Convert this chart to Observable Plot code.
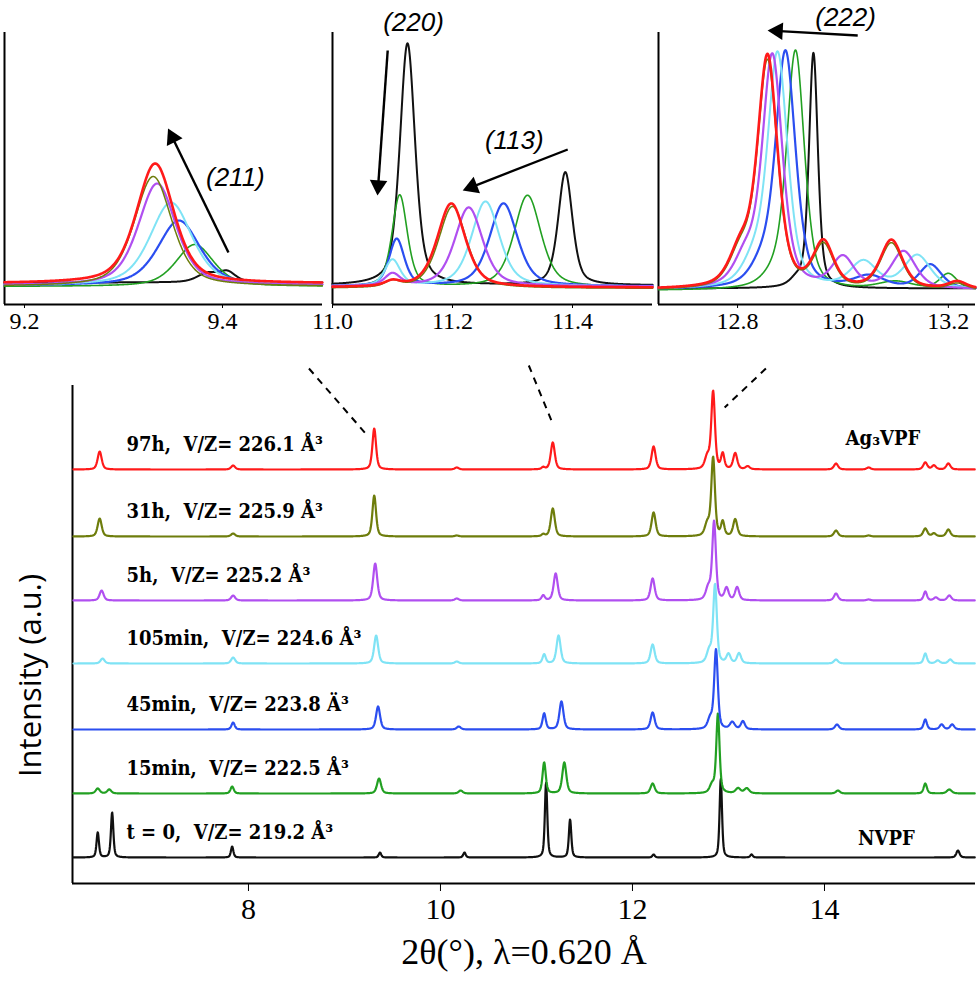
<!DOCTYPE html>
<html><head><meta charset="utf-8">
<script src="https://cdn.jsdelivr.net/npm/d3@7"></script>
<script src="https://cdn.jsdelivr.net/npm/@observablehq/plot@0.6"></script>
<style>
body{margin:0;background:#fff;}
#fig{position:relative;width:980px;height:985px;overflow:hidden;background:#fff;}
#fig > div{position:absolute;}
</style></head><body><div id="fig"></div>
<script>
// ---------------- data ----------------
const series = ["t = 0", "15min", "45min", "105min", "5h", "31h", "97h"];
const colors = ["#111111", "#22a022", "#2b4ef0", "#7fe3f5", "#b04ff0", "#6e7d0c", "#ff1a1a"];
const curveLabels = [
  "t = 0,  V/Z= 219.2 Å³",
  "15min,  V/Z= 222.5 Å³",
  "45min,  V/Z= 223.8 Ä³",
  "105min,  V/Z= 224.6 Å³",
  "5h,  V/Z= 225.2 Å³",
  "31h,  V/Z= 225.9 Å³",
  "97h,  V/Z= 226.1 Å³"
];
const offsets = [26, 90, 154, 220, 283, 347, 414];   // vertical stacking of patterns (a.u.)
const phaseLabels = ["NVPF", "Ag₃VPF"];

// peaks: [2θ position, intensity, FWHM]
const peaksT0 = [[6.43,25,0.03],[6.58,45,0.03],[7.83,11,0.03],[9.37,5,0.03],[10.25,5,0.03],[11.10,75,0.03],[11.35,38,0.03],[12.22,3,0.03],[12.92,79,0.03],[13.24,3,0.03],[15.39,7,0.04]];
const peaks15min = [[6.43,5,0.05],[6.55,4,0.05],[7.83,7,0.04],[9.36,15,0.05],[10.21,3,0.05],[11.08,31,0.04],[11.29,31,0.05],[12.21,10,0.05],[12.83,8,0.06],[12.89,79,0.04],[13.1,5,0.06],[13.19,5,0.06],[14.14,3,0.05],[15.05,10,0.04],[15.3,4,0.06]];
const peaks45min = [[7.84,7,0.04],[9.35,23,0.05],[10.19,3,0.05],[11.08,16,0.04],[11.26,28,0.05],[12.21,17,0.05],[12.81,10,0.06],[12.87,79,0.045],[13.04,7,0.06],[13.15,8,0.05],[14.13,5,0.05],[15.05,10,0.04],[15.22,5,0.05],[15.33,5,0.05]];
const peaks105min = [[6.48,5,0.05],[7.84,6,0.05],[9.33,28,0.05],[10.17,2,0.05],[11.08,9,0.04],[11.23,28,0.05],[12.21,19,0.05],[12.80,12,0.06],[12.86,78,0.045],[13.0,9,0.05],[13.11,10,0.05],[14.12,4,0.05],[15.05,10,0.04],[15.18,3,0.05],[15.31,4,0.05]];
const peaks5h = [[6.47,10,0.05],[7.84,5,0.05],[9.32,37,0.05],[10.17,2,0.05],[11.07,5,0.04],[11.2,27,0.05],[12.21,22,0.05],[12.79,12,0.06],[12.85,78,0.045],[12.98,12,0.05],[13.09,13,0.05],[14.12,7,0.05],[14.46,1,0.05],[15.05,9,0.04],[15.16,3,0.05],[15.3,5,0.05]];
const peaks31h = [[6.45,18,0.05],[7.84,3,0.05],[9.31,41,0.045],[10.17,1,0.05],[11.07,2,0.04],[11.17,28,0.05],[12.22,24,0.05],[12.78,12,0.06],[12.84,78,0.045],[12.94,14,0.04],[13.07,17,0.05],[14.12,6,0.05],[14.46,1,0.05],[15.05,8,0.05],[15.14,3,0.05],[15.29,7,0.05]];
const peaks97h = [[6.45,18,0.05],[7.84,4,0.05],[9.31,41,0.045],[10.17,2,0.05],[11.07,2,0.04],[11.17,27,0.05],[12.22,23,0.05],[12.78,12,0.06],[12.84,77,0.045],[12.94,15,0.04],[13.07,16,0.05],[13.2,3,0.05],[14.12,6,0.05],[14.46,2,0.05],[15.05,7,0.05],[15.14,4,0.05],[15.29,6,0.05]];

// inset (211), order: t=0, 15min, 45min, 105min, 5h, 31h, 97h
const inset211 = [
  [[9.385,9,0.025],[9.405,10,0.02]],
  [[9.372,42,0.045]],
  [[9.356,65,0.05]],
  [[9.348,83,0.05]],
  [[9.334,102,0.045]],
  [[9.330,110,0.045]],
  [[9.332,120,0.045]]
];
const base211 = [0, -4, -3, -3, -3, -4, -1];
// inset (220)/(113)
const inset113 = [
  [[11.125,242,0.03],[11.388,113,0.028]],
  [[11.112,92,0.03],[11.325,92,0.053]],
  [[11.107,47,0.03],[11.285,83,0.055]],
  [[11.100,26,0.03],[11.255,85,0.055]],
  [[11.100,12,0.03],[11.227,79,0.055]],
  [[11.100,6,0.03],[11.200,82,0.055]],
  [[11.100,5,0.03],[11.198,84,0.055]]
];
const base113 = [0, -2, -1, -1, -1, -3, -2];
// inset (222)
const inset222 = [
  [[12.944,235,0.02],[12.912,6,0.03]],
  [[12.870,10,0.05],[12.910,238,0.04],[13.10,8,0.08],[13.20,16,0.04]],
  [[12.845,18,0.05],[12.891,236,0.045],[13.05,12,0.07],[13.166,24,0.05]],
  [[12.830,22,0.05],[12.876,234,0.045],[13.039,26,0.06],[13.141,33,0.06]],
  [[12.815,28,0.05],[12.866,232,0.045],[13.000,30,0.05],[13.115,37,0.055]],
  [[12.806,33,0.05],[12.857,226,0.045],[12.963,42,0.045],[13.092,46,0.05],[13.217,6,0.04]],
  [[12.806,35,0.05],[12.857,230,0.045],[12.963,44,0.045],[13.092,48,0.05],[13.217,7,0.04]]
];
const base222 = [0, -2, -1, -1, -1, -2, -1];

// annotations
const hklLabels = ["(211)", "(220)", "(113)", "(222)"];
const connectors = [
  {x1: 8.63, y1: 515, x2: 9.22, y2: 450},
  {x1: 10.92, y1: 518, x2: 11.16, y2: 462},
  {x1: 13.39, y1: 515, x2: 12.96, y2: 476}
];

// ---------------- helpers ----------------
function profile(peaks, x, eta = 0.5) {
  let s = 0;
  for (const [c, h, w] of peaks) {
    const u = (x - c) / (w / 2);
    s += h * (eta / (1 + u * u) + (1 - eta) * Math.exp(-Math.LN2 * u * u));
  }
  return s;
}
function curve(peaks, x0, x1, step, base) {
  return d3.range(x0, x1 + step / 2, step).map(x => ({x, y: base + profile(peaks, x)}));
}
function arrowMarks(a, kx, ky, r = 6.5) {
  const px = (a.x2 - a.x1) * kx, py = -(a.y2 - a.y1) * ky;
  const L = Math.hypot(px, py), ux = px / L, uy = py / L;
  const d = 1.555 * r;
  const ang = Math.atan2(ux, -uy) * 180 / Math.PI;
  const shaft = {x1: a.x1, y1: a.y1, x2: a.x2 - ux * d * 1.2 / kx, y2: a.y2 + uy * d * 1.2 / ky};
  return [
    Plot.link([shaft], {x1: "x1", y1: "y1", x2: "x2", y2: "y2", stroke: "#000", strokeWidth: 2.4}),
    Plot.dot([a], {x: "x2", y: "y2", symbol: "triangle", r, fill: "#000", stroke: "none", rotate: ang, dx: -ux * d, dy: -uy * d})
  ];
}
const fig = document.getElementById("fig");
function place(el, left, top) {
  const d = document.createElement("div");
  d.style.left = left + "px"; d.style.top = top + "px";
  d.appendChild(el); fig.appendChild(d);
}

// ---------------- insets ----------------
function inset(opts) {
  const {left, width, ml, mr, xdom, ydom, ticks, data, bases, annots, step} = opts;
  const height = 340, mt = 32, mb = 36;
  const kx = (width - ml - mr) / (xdom[1] - xdom[0]);
  const ky = (height - mt - mb) / (ydom[1] - ydom[0]);
  const widths = [2, 1.6, 2.2, 2, 2.2, 1.5, 2.6];
  const marks = [];
  marks.push(Plot.ruleY([ydom[0]], {stroke: "#000", strokeWidth: 2}));
  marks.push(Plot.ruleX([xdom[0]], {stroke: "#000", strokeWidth: 2}));
  data.forEach((pk, i) => {
    marks.push(Plot.line(curve(pk, xdom[0], xdom[1], step, bases[i]), {x: "x", y: "y", stroke: colors[i], strokeWidth: widths[i], curve: "linear"}));
  });
  for (const a of annots) {
    if (a.text) marks.push(Plot.text([a], {x: "x", y: "y", text: "text", fontStyle: "italic", fontFamily: "Liberation Sans, Arial, sans-serif", fontSize: 26, fill: "#000"}));
    else marks.push(...arrowMarks(a, kx, ky));
  }
  marks.push(Plot.axisX({ticks, tickFormat: d3.format(".1f"), tickSize: 4, tickPadding: 3}));
  const p = Plot.plot({
    width, height, marginLeft: ml, marginRight: mr, marginTop: mt, marginBottom: mb,
    x: {domain: xdom, axis: null},
    y: {domain: ydom, axis: null},
    style: {fontFamily: "Liberation Serif, serif", fontSize: "24px", color: "#000", background: "transparent", overflow: "visible"},
    marks
  });
  place(p, left, 0);
}

inset({
  left: 0, width: 322, ml: 4, mr: 0, xdom: [9.1798, 9.501], ydom: [-22, 250], ticks: [9.2, 9.4],
  data: inset211, bases: base211, step: 0.0005,
  annots: [
    {x: 9.413, y: 105, text: hklLabels[0]},
    {x1: 9.406, y1: 30, x2: 9.345, y2: 154}
  ]
});
inset({
  left: 322, width: 330, ml: 10, mr: 0, xdom: [11.0, 11.5333], ydom: [-19, 253], ticks: [11.0, 11.2, 11.4],
  data: inset113, bases: base113, step: 0.0005,
  annots: [
    {x: 11.135, y: 263, text: hklLabels[1]},
    {x1: 11.092, y1: 235, x2: 11.075, y2: 90},
    {x: 11.303, y: 145, text: hklLabels[2]},
    {x1: 11.392, y1: 136, x2: 11.217, y2: 95}
  ]
});
inset({
  left: 652, width: 328, ml: 6, mr: 5, xdom: [12.65, 13.2515], ydom: [-16, 256], ticks: [12.8, 13.0, 13.2],
  data: inset222, bases: base222, step: 0.0005,
  annots: [
    {x: 13.005, y: 271, text: hklLabels[3]},
    {x1: 13.028, y1: 253, x2: 12.857, y2: 258}
  ]
});

// ---------------- main chart ----------------
const mainPeaks = [peaksT0, peaks15min, peaks45min, peaks105min, peaks5h, peaks31h, peaks97h];
const xMain = [6.167, 15.573], yMain = [0, 498];
const mainMarks = [
  Plot.ruleY([yMain[0]], {stroke: "#000", strokeWidth: 2}),
  Plot.ruleX([xMain[0]], {stroke: "#000", strokeWidth: 2}),
  Plot.link(connectors, {x1: "x1", y1: "y1", x2: "x2", y2: "y2", stroke: "#000", strokeWidth: 2, strokeDasharray: "7,6"})
];
mainPeaks.forEach((pk, i) => {
  mainMarks.push(Plot.line(curve(pk, xMain[0] + 0.01, xMain[1] - 0.01, 0.004, offsets[i]), {x: "x", y: "y", stroke: colors[i], strokeWidth: 2.2}));
});
const labelFont = "DejaVu Serif Condensed, DejaVu Serif, serif";
const labelRows = curveLabels.map((t, i) => ({x: 6.73, y: offsets[i] + 25, t}));
mainMarks.push(Plot.text(labelRows, {x: "x", y: "y", text: "t", textAnchor: "start", fontFamily: labelFont, fontWeight: "bold", fontSize: 20, fill: "#000"}));
mainMarks.push(Plot.text([{x: 14.35, y: 45, t: phaseLabels[0]}, {x: 14.22, y: offsets[6] + 31, t: phaseLabels[1]}], {x: "x", y: "y", text: "t", textAnchor: "start", fontFamily: labelFont, fontWeight: "bold", fontSize: 20, fill: "#000"}));
mainMarks.push(Plot.axisX({ticks: [8, 10, 12, 14], tickSize: 8, tickPadding: 6, fontSize: 30}));
mainMarks.push(Plot.text(["2θ(°), λ=0.620 Å"], {frameAnchor: "bottom", dy: 80, text: d => d, fontSize: 36, fontFamily: "Liberation Serif, serif", fill: "#000"}));
const yTitleRow = [{x: xMain[0], y: 208, t: "Intensity (a.u.)"}];
mainMarks.push(Plot.text(yTitleRow, {x: "x", y: "y", text: "t", textAnchor: "middle", dx: -41, rotate: -90, fontSize: 31, fontFamily: "Open Sans, sans-serif", fill: "#000"}));

const main = Plot.plot({
  width: 980, height: 645, marginLeft: 72, marginRight: 5, marginTop: 45, marginBottom: 102,
  x: {domain: xMain, axis: null},
  y: {domain: yMain, axis: null},
  style: {fontFamily: "Liberation Serif, serif", fontSize: "30px", color: "#000", background: "transparent", overflow: "visible"},
  marks: mainMarks
});
place(main, 0, 340);
</script></body></html>
